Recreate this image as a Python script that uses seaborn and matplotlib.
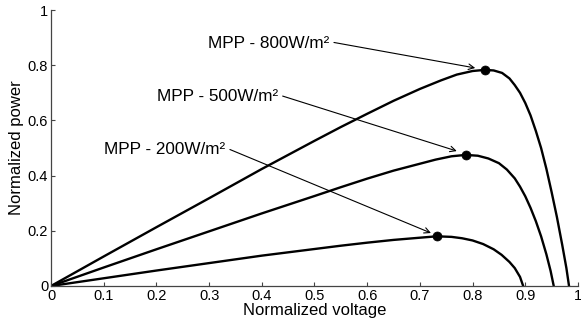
import matplotlib
matplotlib.use("Agg")
import matplotlib.pyplot as plt
import seaborn as sns
import pandas as pd

# curves (normalized voltage, normalized power)
v_800 = [0.0, 0.1, 0.2, 0.3, 0.4, 0.5, 0.55, 0.6, 0.65, 0.7, 0.74, 0.77, 0.80, 0.823, 0.84, 0.856, 0.87, 0.88,
         0.89, 0.90, 0.91, 0.92, 0.93, 0.94, 0.95, 0.96, 0.97, 0.978, 0.983]
p_800 = [0.0, 0.107, 0.213, 0.318, 0.424, 0.526, 0.576, 0.624, 0.671, 0.714, 0.745, 0.766, 0.779, 0.783,
         0.781, 0.772, 0.752, 0.728, 0.700, 0.663, 0.618, 0.562, 0.500, 0.425, 0.340, 0.250, 0.150, 0.065, 0.0]

v_500 = [0.0, 0.1, 0.2, 0.3, 0.4, 0.5, 0.55, 0.6, 0.65, 0.7, 0.73, 0.76, 0.787, 0.81, 0.83, 0.85, 0.865,
         0.88, 0.89, 0.90, 0.91, 0.92, 0.93, 0.94, 0.948, 0.954]
p_500 = [0.0, 0.067, 0.133, 0.198, 0.263, 0.326, 0.358, 0.389, 0.418, 0.443, 0.458, 0.470, 0.475, 0.472,
         0.462, 0.445, 0.422, 0.390, 0.360, 0.325, 0.283, 0.235, 0.180, 0.115, 0.055, 0.0]

v_200 = [0.0, 0.1, 0.2, 0.3, 0.4, 0.5, 0.55, 0.6, 0.65, 0.7, 0.732, 0.76, 0.78, 0.80, 0.82, 0.84, 0.855,
         0.87, 0.88, 0.89, 0.896]
p_200 = [0.0, 0.028, 0.056, 0.083, 0.110, 0.134, 0.146, 0.157, 0.167, 0.175, 0.180, 0.178, 0.173, 0.165,
         0.152, 0.133, 0.113, 0.087, 0.065, 0.033, 0.0]

# maximum power points
mpp_v = [0.823, 0.787, 0.732]
mpp_p = [0.783, 0.475, 0.180]
mpp_labels = ["MPP - 800W/m²", "MPP - 500W/m²", "MPP - 200W/m²"]
label_xy = [(0.298, 0.880), (0.201, 0.688), (0.101, 0.496)]
arrow_tips = [(0.805, 0.790), (0.770, 0.489), (0.721, 0.192)]

x_ticks = [0, 0.1, 0.2, 0.3, 0.4, 0.5, 0.6, 0.7, 0.8, 0.9, 1]
x_ticklabels = ["0", "0.1", "0.2", "0.3", "0.4", "0.5", "0.6", "0.7", "0.8", "0.9", "1"]
y_ticks = [0, 0.2, 0.4, 0.6, 0.8, 1]
y_ticklabels = ["0", "0.2", "0.4", "0.6", "0.8", "1"]

sns.set_theme(style="ticks")
plt.rcParams["font.family"] = ["Liberation Sans", "DejaVu Sans"]
plt.rcParams["text.color"] = "black"
plt.rcParams["axes.labelcolor"] = "black"
plt.rcParams["xtick.labelcolor"] = "black"
plt.rcParams["ytick.labelcolor"] = "black"

df = pd.concat([
    pd.DataFrame({"V": v_800, "P": p_800, "G": "800"}),
    pd.DataFrame({"V": v_500, "P": p_500, "G": "500"}),
    pd.DataFrame({"V": v_200, "P": p_200, "G": "200"}),
])

fig = plt.figure(figsize=(5.81, 3.26), dpi=100)
ax = fig.add_axes([0.0878, 0.1227, 0.907, 0.8466])

sns.lineplot(data=df, x="V", y="P", hue="G", palette={"800": "black", "500": "black", "200": "black"},
             estimator=None, sort=False, legend=False, lw=1.7, ax=ax)
sns.scatterplot(x=mpp_v, y=mpp_p, color="black", s=42, edgecolor="black", zorder=5, ax=ax)

for lab, (tx, ty), (ax_, ay) in zip(mpp_labels, label_xy, arrow_tips):
    ax.annotate(lab, xy=(ax_, ay), xytext=(tx, ty), ha="left", va="center", fontsize=12.3, color="black",
                arrowprops=dict(arrowstyle="->", lw=0.8, color="black", shrinkA=1, shrinkB=0,
                                relpos=(1, 0.6), mutation_scale=10))

ax.set_xlim(0, 1)
ax.set_ylim(0, 1)
ax.set_xticks(x_ticks)
ax.set_xticklabels(x_ticklabels)
ax.set_yticks(y_ticks)
ax.set_yticklabels(y_ticklabels)
ax.tick_params(direction="in", length=3, width=0.8, labelsize=10.5, pad=2, color="#444444",
               labelcolor="black")
sns.despine(ax=ax)
for s in ["left", "bottom"]:
    ax.spines[s].set_color("#444444")
    ax.spines[s].set_linewidth(0.9)

ax.set_xlabel("Normalized voltage", fontsize=12, color="black")
ax.set_ylabel("Normalized power", fontsize=12, color="black")
ax.xaxis.set_label_coords(0.5, -0.062)
ax.yaxis.set_label_coords(-0.051, 0.5)

fig.savefig("out.png", dpi=100)
